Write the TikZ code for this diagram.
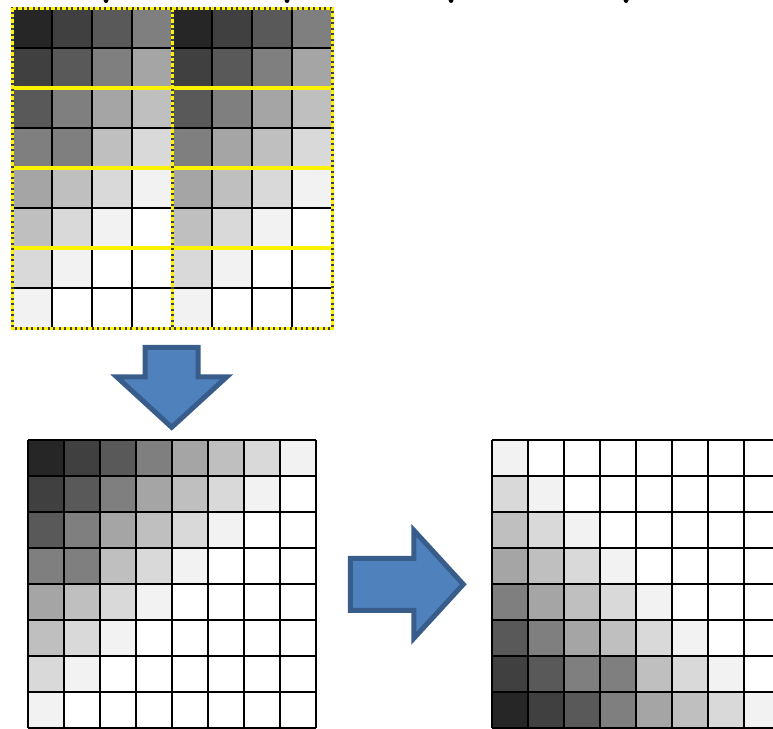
\documentclass[tikz,border=0pt]{standalone}
\usetikzlibrary{shapes.arrows}

\definecolor{lv0}{HTML}{262626}
\definecolor{lv1}{HTML}{404040}
\definecolor{lv2}{HTML}{595959}
\definecolor{lv3}{HTML}{7F7F7F}
\definecolor{lv4}{HTML}{A5A5A5}
\definecolor{lv5}{HTML}{BFBFBF}
\definecolor{lv6}{HTML}{D9D9D9}
\definecolor{lv7}{HTML}{F2F2F2}
\definecolor{lv8}{HTML}{FFFFFF}
\definecolor{arrowfill}{HTML}{4F81BD}
\definecolor{arrowline}{HTML}{385D8A}

\begin{document}
\begin{tikzpicture}[x=1pt,y=-1pt,
    gridline/.style={black,line width=1.4pt},
    blockline/.style={yellow,line width=3.5pt},
    antline/.style={draw=black!75,line width=3pt,
        postaction={draw=yellow,line width=3pt,dash pattern=on 3.5pt off 2pt}},
    bigarrow/.style={single arrow,draw=arrowline,fill=arrowfill,line width=5pt,
        inner xsep=0pt,single arrow tip angle=95,anchor=tail},
    glyph/.style={fill=black}]
\useasboundingbox (0,0) rectangle (773,728);

% cut-off title
\foreach \gx in {106,287,451,626}
    \fill[glyph] (\gx,0) ellipse (2.5 and 3);

% source image with 2x2 blocks
\begin{scope}[shift={(12,8)}]
\foreach \vals [count=\r from 0] in {{0,1,2,3,0,1,2,3},{1,2,3,4,1,2,3,4},
    {2,3,4,5,2,3,4,5},{3,3,5,6,3,4,5,6},{4,5,6,7,4,5,6,7},{5,6,7,8,5,6,7,8},
    {6,7,8,8,6,7,8,8},{7,8,8,8,7,8,8,8}}
    \foreach \v [count=\c from 0] in \vals
        \fill[lv\v] (40*\c,40*\r) rectangle ++(40,40);
\foreach \i in {0,...,8} {
    \draw[gridline] (40*\i,0) -- (40*\i,320);
    \draw[gridline] (0,40*\i) -- (320,40*\i);
}
\foreach \i in {80,160,240}
    \draw[blockline] (0,\i) -- (320,\i);
\draw[antline] (160,0) -- (160,320);
\draw[antline] (0,0) rectangle (320,320);
\end{scope}

\node[bigarrow,rotate=-90,minimum height=80pt,inner ysep=24pt,
    single arrow head extend=28.5pt] (shrink) at (171.7,344.8) {};

% merged image
\begin{scope}[shift={(28,440)}]
\foreach \vals [count=\r from 0] in {{0,1,2,3,4,5,6,7},{1,2,3,4,5,6,7,8},
    {2,3,4,5,6,7,8,8},{3,3,5,6,7,8,8,8},{4,5,6,7,8,8,8,8},{5,6,7,8,8,8,8,8},
    {6,7,8,8,8,8,8,8},{7,8,8,8,8,8,8,8}}
    \foreach \v [count=\c from 0] in \vals
        \fill[lv\v] (36*\c,36*\r) rectangle ++(36,36);
\foreach \i in {0,...,8} {
    \draw[gridline] (36*\i,0) -- (36*\i,288);
    \draw[gridline] (0,36*\i) -- (288,36*\i);
}
\end{scope}

\node[bigarrow,minimum height=113pt,inner ysep=23.5pt,
    single arrow head extend=28pt] (flip) at (347.8,584.3) {};

% flipped image
\begin{scope}[shift={(492,440)}]
\foreach \vals [count=\r from 0] in {{7,8,8,8,8,8,8,8},{6,7,8,8,8,8,8,8},
    {5,6,7,8,8,8,8,8},{4,5,6,7,8,8,8,8},{3,4,5,6,7,8,8,8},{2,3,4,5,6,7,8,8},
    {1,2,3,3,5,6,7,8},{0,1,2,3,4,5,6,7}}
    \foreach \v [count=\c from 0] in \vals
        \fill[lv\v] (36*\c,36*\r) rectangle ++(36,36);
\foreach \i in {0,...,8} {
    \draw[gridline] (36*\i,0) -- (36*\i,288);
    \draw[gridline] (0,36*\i) -- (288,36*\i);
}
\end{scope}
\end{tikzpicture}
\end{document}
